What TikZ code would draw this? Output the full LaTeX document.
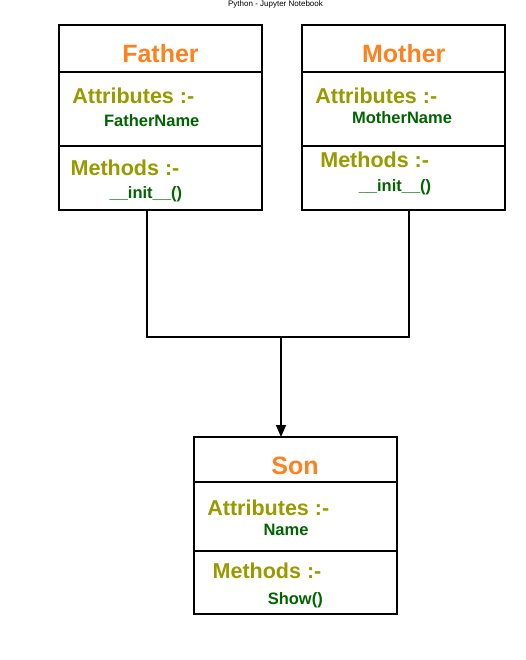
\documentclass[tikz,border=0pt]{standalone}
\usepackage{fontspec}
\setmainfont{Liberation Sans}
\usetikzlibrary{%
	calc,%
	arrows.meta,%
	positioning
}
\definecolor{titleorange}{RGB}{255,128,30}
\definecolor{labelolive}{RGB}{153,153,0}
\definecolor{itemgreen}{RGB}{0,100,0}

\tikzset{
	part/.style={draw, line width=1.6pt, minimum width=203pt, inner sep=0pt},
	classname/.style={text=titleorange, font=\fontsize{25}{30}\selectfont\bfseries, inner sep=0pt},
	heading/.style={text=labelolive, font=\fontsize{21.5}{26}\selectfont\bfseries, inner sep=0pt},
	member/.style={text=itemgreen, font=\fontsize{16.5}{20}\selectfont\bfseries, inner sep=0pt},
	link/.style={line width=1.6pt}
}

\begin{document}
\begin{tikzpicture}[x=1pt,y=-1pt]
		\useasboundingbox (0,0) rectangle (526,660);
		% Caption
		\node[font=\fontsize{8}{10}\selectfont, inner sep=0pt] (caption) at (275.5,4) {Python - Jupyter Notebook};
		
		% Boxes
		\node[part, minimum height=47pt] (fatherhead) at (160.5,48.5) {};
		\node[part, minimum height=74pt] (fatherattr) at (160.5,109) {};
		\node[part, minimum height=64pt] (fathermeth) at (160.5,178) {};
		\node[part, minimum height=47pt] (motherhead) at (403.5,48.5) {};
		\node[part, minimum height=74pt] (motherattr) at (403.5,109) {};
		\node[part, minimum height=64pt] (mothermeth) at (403.5,178) {};
		\node[part, minimum height=45pt] (sonhead) at (295.5,459.5) {};
		\node[part, minimum height=69pt] (sonattr) at (295.5,516.5) {};
		\node[part, minimum height=63pt] (sonmeth) at (295.5,582.5) {};
		
		% Texts
		\node[classname] (fathername) at (160.5,54) {Father};
		\node[heading] (fatherattrlbl) at (133.3,96) {Attributes :-};
		\node[member] (fatherfield) at (151.7,121) {FatherName};
		\node[heading] (fathermethlbl) at (125,168) {Methods :-};
		\node[member] (fatherinit) at (145.8,194.5) {\_\_init\_\_()};
		
		\node[classname] (mothername) at (403.8,54) {Mother};
		\node[heading] (motherattrlbl) at (376.3,96) {Attributes :-};
		\node[member] (motherfield) at (402,118) {MotherName};
		\node[heading] (mothermethlbl) at (374.7,160) {Methods :-};
		\node[member] (motherinit) at (395,187) {\_\_init\_\_()};
		
		\node[classname] (sonname) at (295,466) {Son};
		\node[heading] (sonattrlbl) at (268.3,508) {Attributes :-};
		\node[member] (sonfield) at (286,530) {Name};
		\node[heading] (sonmethlbl) at (267,571) {Methods :-};
		\node[member] (sonshow) at (295.3,600) {Show()};
		
		% Arrows
		\coordinate (join) at (281,337);
		\draw[link] ([xshift=-13.5pt]fathermeth.south) |- (join) -| ([xshift=5.5pt]mothermeth.south);
		\draw[link, -{Triangle[length=12pt,width=10pt]}] (join) -- ([xshift=-14.5pt,yshift=-0.8pt]sonhead.north);
	\end{tikzpicture}
\end{document}
